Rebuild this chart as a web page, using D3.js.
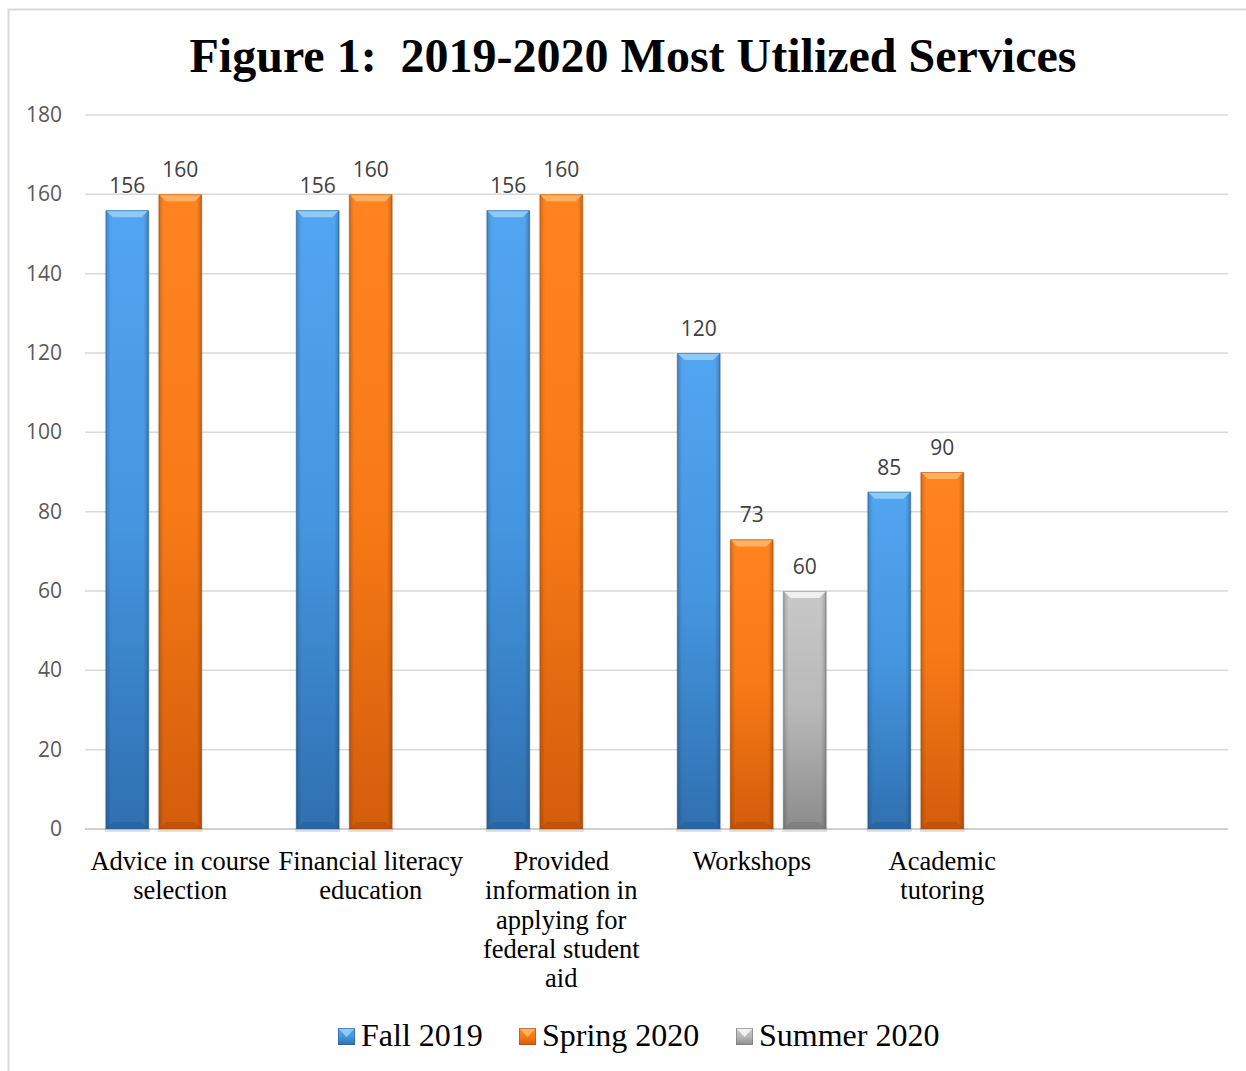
<!DOCTYPE html>
<html>
<head>
<meta charset="utf-8">
<script src="https://cdn.jsdelivr.net/npm/d3@7"></script>
<style>
  body { margin: 0; background: #fff; }
  svg { display: block; }
</style>
</head>
<body>
<div id="chart"></div>
<script>
// chart data
const categories = ["Advice in course selection", "Financial literacy education",
  "Provided information in applying for federal student aid", "Workshops", "Academic tutoring", ""];
const catLines = [["Advice in course", "selection"], ["Financial literacy", "education"],
  ["Provided", "information in", "applying for", "federal student", "aid"], ["Workshops"],
  ["Academic", "tutoring"], []];
const seriesNames = ["Fall 2019", "Spring 2020", "Summer 2020"];
const fall2019 = [156, 156, 156, 120, 85, null];
const spring2020 = [160, 160, 160, 73, 90, null];
const summer2020 = [null, null, null, 60, null, null];
const yTicks = [0, 20, 40, 60, 80, 100, 120, 140, 160, 180];

const seriesValues = [fall2019, spring2020, summer2020];
const colors = [
  { top: "#52a5f0", mid: "#4596e0", bot: "#2f70b0", bevelTop: "#8ccaf8", bevelBot: "#2a5f96" },
  { top: "#ff8420", mid: "#f77a16", bot: "#d45d0c", bevelTop: "#ffb060", bevelBot: "#b34d08" },
  { top: "#c8c8c8", mid: "#b8b8b8", bot: "#8c8c8c", bevelTop: "#f0f0f0", bevelBot: "#777" }
];

const width = 1246, height = 1071;
const svg = d3.select("#chart").append("svg")
  .attr("width", width)
  .attr("height", height);

// outer frame
svg.append("rect")
  .attr("x", 8.5).attr("y", 9.5)
  .attr("width", 1250).attr("height", 1080)
  .attr("fill", "none").attr("stroke", "#d9d9d9").attr("stroke-width", 2);

// title
svg.append("text")
  .attr("x", 633).attr("y", 72)
  .attr("text-anchor", "middle")
  .attr("font-family", "'Liberation Serif', 'Times New Roman', serif")
  .attr("font-weight", "bold")
  .attr("font-size", 48)
  .attr("xml:space", "preserve")
  .text("Figure 1:  2019-2020 Most Utilized Services");

const x0 = d3.scaleBand().domain(d3.range(categories.length)).range([85, 1228]).padding(0);
const x1 = d3.scaleBand().domain(d3.range(seriesNames.length))
  .range([20.75, x0.bandwidth() - 20.75]).paddingInner(0.19);
const y = d3.scaleLinear().domain([0, 180]).range([829, 115]);

// gradients
const defs = svg.append("defs");
colors.forEach(function(c, i) {
  const g = defs.append("linearGradient").attr("id", "grad" + i)
    .attr("x1", 0).attr("y1", 0).attr("x2", 0).attr("y2", 1);
  g.append("stop").attr("offset", "0%").attr("stop-color", c.top);
  g.append("stop").attr("offset", "50%").attr("stop-color", c.mid);
  g.append("stop").attr("offset", "100%").attr("stop-color", c.bot);
  const h = defs.append("linearGradient").attr("id", "side" + i)
    .attr("x1", 0).attr("y1", 0).attr("x2", 1).attr("y2", 0);
  h.append("stop").attr("offset", "0%").attr("stop-color", "#000").attr("stop-opacity", 0.18);
  h.append("stop").attr("offset", "12%").attr("stop-color", "#000").attr("stop-opacity", 0);
  h.append("stop").attr("offset", "88%").attr("stop-color", "#000").attr("stop-opacity", 0);
  h.append("stop").attr("offset", "100%").attr("stop-color", "#000").attr("stop-opacity", 0.22);
});

// gridlines
svg.append("g").selectAll("line")
  .data(yTicks)
  .enter().append("line")
  .attr("x1", 85).attr("x2", 1228)
  .attr("y1", d => y(d)).attr("y2", d => y(d))
  .attr("stroke", d => d === 0 ? "#d0d0d0" : "#d9d9d9")
  .attr("stroke-width", d => d === 0 ? 2 : 1.5);

// y axis labels
svg.append("g").selectAll("text")
  .data(yTicks)
  .enter().append("text")
  .attr("x", 62).attr("y", d => y(d) + 7)
  .attr("text-anchor", "end")
  .attr("font-family", "'Open Sans', 'Liberation Sans', sans-serif")
  .attr("font-size", 21)
  .attr("fill", "#595959")
  .text(d => d);

// bars
const bars = [];
seriesValues.forEach(function(vals, s) {
  vals.forEach(function(v, c) {
    if (v !== null) bars.push({ s: s, c: c, v: v });
  });
});

const barG = svg.append("g");
bars.forEach(function(b) {
  const bx = x0(b.c) + x1(b.s);
  const bw = x1.bandwidth();
  const top = y(b.v), bot = y(0);
  const col = colors[b.s];
  const g = barG.append("g");
  // shadow
  g.append("rect").attr("x", bx - 1).attr("y", top + 1).attr("width", bw + 2).attr("height", bot - top + 2)
    .attr("fill", "#000").attr("opacity", 0.12);
  g.append("rect").attr("x", bx).attr("y", top).attr("width", bw).attr("height", bot - top)
    .attr("fill", "url(#grad" + b.s + ")");
  g.append("rect").attr("x", bx).attr("y", top).attr("width", bw).attr("height", bot - top)
    .attr("fill", "url(#side" + b.s + ")");
  const bv = 7;
  // top bevel
  g.append("path")
    .attr("d", "M" + bx + "," + top + "L" + (bx + bw) + "," + top + "L" + (bx + bw - bv) + "," + (top + bv) +
      "L" + (bx + bv) + "," + (top + bv) + "Z")
    .attr("fill", col.bevelTop);
  // bottom bevel
  g.append("path")
    .attr("d", "M" + bx + "," + bot + "L" + (bx + bw) + "," + bot + "L" + (bx + bw - bv) + "," + (bot - bv) +
      "L" + (bx + bv) + "," + (bot - bv) + "Z")
    .attr("fill", col.bevelBot).attr("opacity", 0.6);
  g.append("rect").attr("x", bx + 0.5).attr("y", top + 0.5).attr("width", bw - 1).attr("height", bot - top - 1)
    .attr("fill", "none").attr("stroke", col.bevelBot).attr("stroke-opacity", 0.5);
  // value label
  barG.append("text")
    .attr("x", bx + bw / 2).attr("y", top - 17)
    .attr("text-anchor", "middle")
    .attr("font-family", "'Open Sans', 'Liberation Sans', sans-serif")
    .attr("font-size", 21)
    .attr("fill", "#404040")
    .text(b.v);
});

// category labels
const catG = svg.append("g");
catLines.forEach(function(lines, c) {
  const t = catG.append("text")
    .attr("text-anchor", "middle")
    .attr("font-family", "'Liberation Serif', 'Times New Roman', serif")
    .attr("font-size", 26.5)
    .attr("fill", "#000");
  lines.forEach(function(l, i) {
    t.append("tspan").attr("x", x0(c) + x0.bandwidth() / 2).attr("y", 870 + i * 29.3).text(l);
  });
});

// legend
const legendX = [338, 519, 736];
const legend = svg.append("g");
seriesNames.forEach(function(name, i) {
  const col = colors[i];
  const lx = legendX[i], ly = 1028;
  legend.append("rect").attr("x", lx).attr("y", ly).attr("width", 17).attr("height", 17)
    .attr("fill", "url(#grad" + i + ")");
  legend.append("path")
    .attr("d", "M" + lx + "," + ly + "L" + (lx + 17) + "," + ly + "L" + (lx + 8.5) + "," + (ly + 9) + "Z")
    .attr("fill", col.bevelTop);
  legend.append("rect").attr("x", lx + 0.5).attr("y", ly + 0.5).attr("width", 16).attr("height", 16)
    .attr("fill", "none").attr("stroke", col.bevelBot).attr("stroke-opacity", 0.6);
  legend.append("text")
    .attr("x", lx + 23).attr("y", ly + 18)
    .attr("font-family", "'Liberation Serif', 'Times New Roman', serif")
    .attr("font-size", 32)
    .attr("fill", "#000")
    .text(name);
});
</script>
</body>
</html>
